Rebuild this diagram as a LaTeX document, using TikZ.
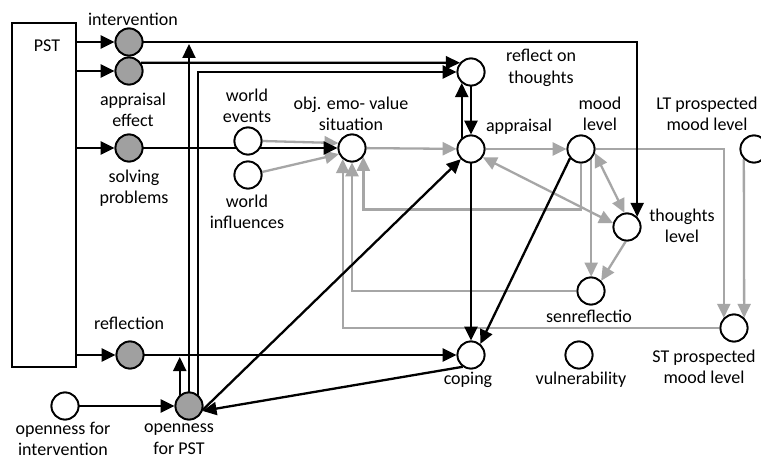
\documentclass[tikz,border=0pt]{standalone}
\usepackage{fontspec}
\setmainfont{Carlito}
\usetikzlibrary{arrows.meta}
\definecolor{lineg}{RGB}{166,166,166}
\definecolor{fillg}{RGB}{160,160,160}
\newcommand\lblfont{\fontsize{18}{21.5}\selectfont}
\begin{document}
\begin{tikzpicture}[x=1pt,y=-1pt,
  wn/.style={circle,draw=black,line width=1.8pt,minimum size=27pt,inner sep=0pt,fill=white},
  gn/.style={wn,fill=fillg},
  lbl/.style={align=center,inner sep=0pt,font=\lblfont},
  tip/.style={},
  blk/.style={line width=2.3pt,draw=black,-{Triangle[length=14pt,width=13pt]}},
  gry/.style={line width=2.3pt,draw=lineg,-{Triangle[length=14pt,width=13pt]},color=lineg},
  gryb/.style={gry,{Triangle[length=14pt,width=13pt]}-{Triangle[length=14pt,width=13pt]}}
]
\useasboundingbox (0,0) rectangle (761,460);
\fill[white] (0,0) rectangle (761,460);

% PST box
\node[draw,line width=1.8pt,minimum width=64pt,minimum height=344pt,inner sep=0pt] (pst) at (44,195) {};
\node[lbl] (psttxt) at (47,46) {PST};

% nodes
\node[gn] (int) at (129,42) {};
\node[gn] (ae) at (129,71) {};
\node[gn] (sp) at (129,148) {};
\node[gn] (refl) at (130,355) {};
\node[wn] (ofi) at (65,406) {};
\node[gn] (ofp) at (189,406) {};
\node[wn] (we) at (248,141) {};
\node[wn] (wi) at (248,175) {};
\node[wn] (sit) at (352,148) {};
\node[wn] (rot) at (471,72) {};
\node[wn] (app) at (471,149) {};
\node[wn] (mood) at (581,149) {};
\node[wn] (lt) at (754,149) {};
\node[wn] (tl) at (627,227) {};
\node[wn] (sen) at (591,291) {};
\node[wn] (st) at (734,328) {};
\node[wn] (cop) at (471,355) {};
\node[wn] (vul) at (579,355) {};

% labels
\node[lbl] (lint) at (133,19) {intervention};
\node[lbl] (lae) at (133,110) {appraisal\\effect};
\node[lbl] (lsp) at (134,188) {solving\\problems};
\node[lbl] (lrefl) at (129,323) {reflection};
\node[lbl] (lofi) at (63,439) {openness for\\intervention};
\node[lbl] (lofp) at (179,439) {openness\\for PST};
\node[lbl] (lwe) at (247,106) {world\\events};
\node[lbl] (lwi) at (247,212) {world\\influences};
\node[lbl] (lsit) at (351,114) {obj. emo- value\\situation};
\node[lbl] (lrot) at (541,68) {reflect on\\thoughts};
\node[lbl] (lapp) at (519,127) {appraisal};
\node[lbl] (lmood) at (600,114) {mood\\level};
\node[lbl] (llt) at (707,114) {LT prospected\\mood level};
\node[lbl] (ltl) at (682,226) {thoughts\\level};
\node[lbl] (lsen) at (589,316) {senreflectio};
\node[lbl] (lst) at (704,367) {ST prospected\\mood level};
\node[lbl] (lcop) at (468,380) {coping};
\node[lbl] (lvul) at (581,380) {vulnerability};

\coordinate (intline) at (189,44);
\coordinate (reflline) at (180,357);

% gray connectors
\draw[gry] (we.east) -- (sit.160);
\draw[gry] (wi.12) -- (sit.205);
\draw[gry] (sit) -- (app);
\draw[gry] (app) -- (mood);
\draw[gry] (mood.east) -| (st.135);
\draw[gry] (lt.225) -- (st.45);
\draw[gryb] (mood.-16) -- (tl.100);
\draw[gryb] (app.-35) -- (tl.165);
\draw[gry] (tl.-95) -- (sen.45);
\draw[gry] (mood.-45) -- (mood.-45 |- sen.north);
\draw[gry] (mood.south) -- ++(0,46) -| (sit.-38);
\draw[gry] (sen.west) -| (sit.south);
\draw[gry] (st.west) -| (sit.-130);

% black connectors
\draw[blk] (pst.east |- int) -- (int);
\draw[blk] (pst.east |- ae) -- (ae);
\draw[blk] (pst.east |- sp) -- (sp);
\draw[blk] (pst.east |- refl) -- (refl);
\draw[blk] (int.east) -| (tl.45);
\draw[blk] (ae.35) -- (rot.140);
\draw[blk] (ofp.50) |- (rot.west);
\draw[blk] (ofp.north) -- (intline);
\draw[blk] (ofp.130) -- (ofp.130 |- reflline);
\draw[blk] (sp) -- (sit);
\draw[blk] (refl) -- (cop);
\draw[blk] (ofi) -- (ofp);
\draw[blk] (cop.235) -- (ofp.-20);
\draw[blk] (ofp.-15) -- (app.225);
\draw[blk] (app.130) -- (rot.230);
\draw[blk] (rot.south) -- (app.north);
\draw[blk] (app.south) -- (cop.north);
\draw[blk] (mood.220) -- (cop.50);

% redraw circles on top
\foreach \n in {int,ae,sp,refl,ofp}{\draw[line width=1.8pt,fill=fillg] (\n) circle (13.5pt);}
\foreach \n in {ofi,we,wi,sit,rot,app,mood,lt,tl,sen,st,cop,vul}{\draw[line width=1.8pt,fill=white] (\n) circle (13.5pt);}
\end{tikzpicture}
\end{document}
